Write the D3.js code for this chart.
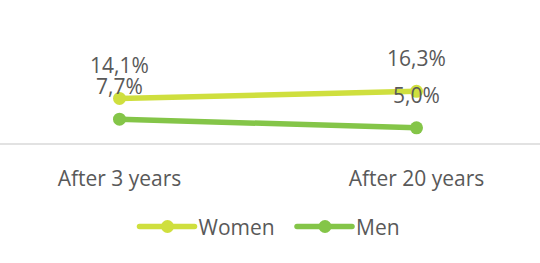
<!DOCTYPE html>
<html>
<head>
<meta charset="utf-8">
<script src="https://cdn.jsdelivr.net/npm/d3@7"></script>
<style>
  body { margin: 0; background: #fff; }
  text { font-family: "Open Sans", "Liberation Sans", sans-serif; fill: #595959; }
</style>
</head>
<body>
<div id="chart"></div>
<script>
// data
var categories = ["After 3 years", "After 20 years"];
var seriesNames = ["Women", "Men"];
var women = [14.1, 16.3];
var men = [7.7, 5.0];
var colors = ["#cfdf3e", "#84c548"];

var width = 540, height = 263;
var axisY = 144;

var svg = d3.select("#chart").append("svg")
    .attr("width", width)
    .attr("height", height);

// category positions (plot is wider than the page, cropped at both sides)
var xScale = d3.scalePoint()
    .domain(categories)
    .range([119.5, 416.5]);

var yScale = d3.scaleLinear()
    .domain([0, 20])
    .range([axisY, axisY - 20 * 3.23]);

// baseline
svg.append("line")
    .attr("x1", 0).attr("x2", width)
    .attr("y1", axisY).attr("y2", axisY)
    .attr("stroke", "#d9d9d9")
    .attr("stroke-width", 1.5);

// category labels
svg.selectAll(".cat")
    .data(categories)
  .enter().append("text")
    .attr("class", "cat")
    .attr("x", function(d) { return xScale(d); })
    .attr("y", 186)
    .attr("text-anchor", "middle")
    .style("font-size", "21px")
    .text(function(d) { return d; });

var series = [
  { name: seriesNames[0], values: women, color: colors[0] },
  { name: seriesNames[1], values: men, color: colors[1] }
];

var line = d3.line()
    .x(function(d, i) { return xScale(categories[i]); })
    .y(function(d) { return yScale(d); });

series.forEach(function(s) {
  svg.append("path")
      .datum(s.values)
      .attr("fill", "none")
      .attr("stroke", s.color)
      .attr("stroke-width", 5.5)
      .attr("stroke-linecap", "round")
      .attr("d", line);

  svg.selectAll(".dot-" + s.name)
      .data(s.values)
    .enter().append("circle")
      .attr("cx", function(d, i) { return xScale(categories[i]); })
      .attr("cy", function(d) { return yScale(d); })
      .attr("r", 6.5)
      .attr("fill", s.color);
});

// data labels (drawn last so they sit on top of the lines)
series.forEach(function(s) {
  svg.selectAll(".lbl-" + s.name)
      .data(s.values)
    .enter().append("text")
      .attr("x", function(d, i) { return xScale(categories[i]); })
      .attr("y", function(d) { return yScale(d) - 25; })
      .attr("text-anchor", "middle")
      .style("font-size", "21px")
      .text(function(d) { return d.toFixed(1).replace(".", ",") + "%"; });
});

// legend
var legendX = [139.5, 297];
var legend = svg.selectAll(".legend")
    .data(series)
  .enter().append("g")
    .attr("transform", function(d, i) { return "translate(" + legendX[i] + ",226.5)"; });

legend.append("line")
    .attr("x1", 0).attr("x2", 55)
    .attr("stroke", function(d) { return d.color; })
    .attr("stroke-width", 5.5)
    .attr("stroke-linecap", "round");

legend.append("circle")
    .attr("cx", 28)
    .attr("r", 6.5)
    .attr("fill", function(d) { return d.color; });

legend.append("text")
    .attr("x", 59)
    .attr("y", 8)
    .style("font-size", "21px")
    .text(function(d) { return d.name; });
</script>
</body>
</html>
